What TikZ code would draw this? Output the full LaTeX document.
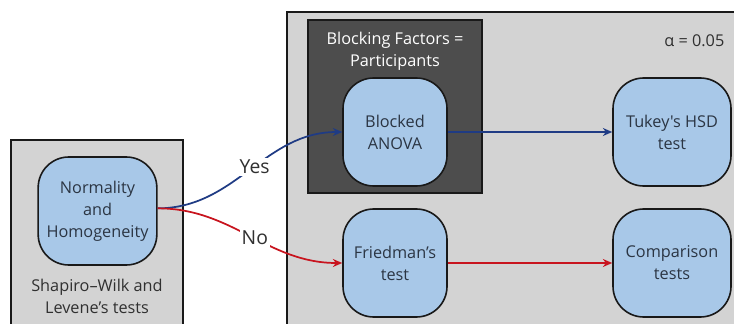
\documentclass[tikz,border=0pt]{standalone}
\usepackage{fontspec}
\setmainfont{Open Sans}[Ligatures=TeXOff]
\usetikzlibrary{arrows.meta}
\definecolor{nodefill}{HTML}{A8C8E8}
\definecolor{boxfill}{HTML}{D3D3D3}
\definecolor{darkbox}{HTML}{4D4D4D}
\definecolor{lineblue}{HTML}{1F3B84}
\definecolor{linered}{HTML}{C8141E}
\definecolor{txt}{HTML}{2B3543}
\definecolor{labtxt}{HTML}{303030}
\tikzset{
  frame/.style={draw=black!90, line width=1.2pt, fill=boxfill},
  darkframe/.style={draw=black!90, line width=1.2pt, fill=darkbox},
  testbox/.style={draw=black!90, line width=1.2pt, fill=nodefill, rounded corners=23pt,
    minimum height=81pt, minimum width=78pt, align=center, text=txt, inner sep=6pt},
  conn/.style={line width=1.3pt, -{Stealth[length=7pt,width=6pt]}},
  lab/.style={fill=white, inner sep=1.5pt, text=labtxt, font=\fontsize{14.5}{17}\selectfont},
  captext/.style={align=center, text=labtxt}
}
\begin{document}
\begin{tikzpicture}[x=0.75pt,y=-0.75pt, font=\fontsize{12.2}{16.5}\selectfont]
\clip (0,0) rectangle (734,324);
\fill[white] (0,0) rectangle (734,324);
% frames
\draw[frame] (11,140) rectangle (183,340);
\draw[frame] (287,12) rectangle (760,340);
\draw[darkframe] (308,20) rectangle (482,193);
% captions
\node[captext] (shap) at (97,296) {Shapiro–Wilk and\\Levene’s tests};
\node[captext, text=white] (blockf) at (395,51) {Blocking Factors =\\Participants};
\node[captext, anchor=east] (alpha) at (729,41) {α = 0.05};
% nodes
\node[testbox, minimum width=89pt] (norm) at (97.5,211) {Normality\\and\\Homogeneity};
\node[testbox] (anova) at (395,132) {Blocked\\ANOVA};
\node[testbox] (fried) at (395,263) {Friedman’s\\test};
\node[testbox, minimum width=88.5pt] (tukey) at (672,132) {Tukey's HSD\\test};
\node[testbox, minimum width=88.5pt] (comp) at (672,263) {Comparison\\tests};
% connectors
\draw[conn, lineblue] ([yshift=2pt]norm.east) to[out=0,in=180] node[lab, pos=0.53] (yes) {Yes} (anova.west);
\draw[conn, linered] ([yshift=2pt]norm.east) to[out=0,in=180] node[lab, pos=0.53] (no) {No} (fried.west);
\draw[conn, lineblue] (anova.east) -- (tukey.west);
\draw[conn, linered] (fried.east) -- (comp.west);
\end{tikzpicture}
\end{document}
